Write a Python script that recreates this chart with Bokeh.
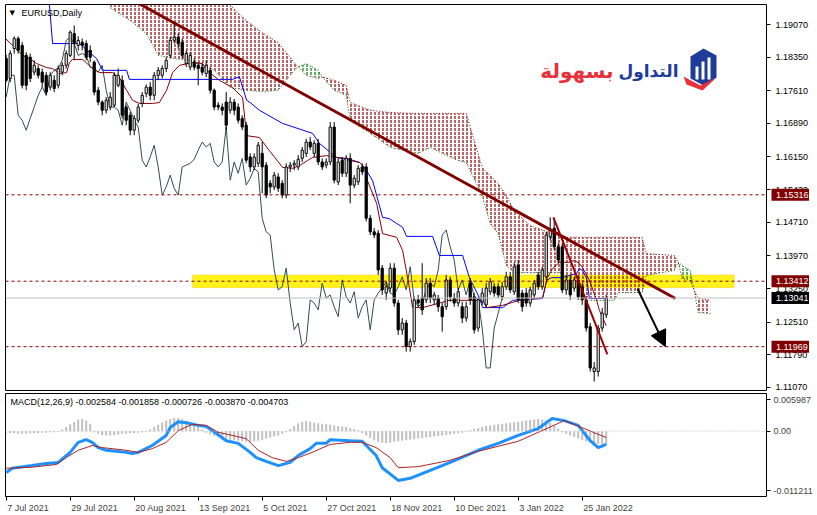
import numpy as np
from bokeh.plotting import figure
from bokeh.layouts import column
from bokeh.models import (Range1d, FixedTicker, Span, BoxAnnotation, Label,
                          Arrow, NormalHead, PrintfTickFormatter)
from bokeh.core.properties import value
from bokeh.embed import file_html
from bokeh.resources import INLINE

# ---------------- data ----------------
opens = [1.1832,1.1788,1.1854,1.1876,1.1861,1.1839,1.1835,1.1802,1.1810,1.1802,
         1.1795,1.1769,1.1784,1.1773,1.1802,1.1817,1.1839,1.1887,1.1861,1.1868,
         1.1865,1.1850,1.1824,1.1762,1.1736,1.1718,1.1725,1.1729,1.1773,1.1784,
         1.1725,1.1707,1.1674,1.1696,1.1733,1.1755,1.1769,1.1751,1.1795,1.1795,
         1.1810,1.1839,1.1872,1.1879,1.1868,1.1821,1.1813,1.1824,1.1817,1.1813,
         1.1799,1.1806,1.1762,1.1729,1.1725,1.1736,1.1718,1.1736,1.1725,1.1700,
         1.1685,1.1615,1.1593,1.1601,1.1623,1.1597,1.1557,1.1549,1.1571,1.1557,
         1.1531,1.1593,1.1597,1.1593,1.1612,1.1623,1.1648,1.1623,1.1645,1.1604,
         1.1597,1.1604,1.1681,1.1560,1.1608,1.1579,1.1612,1.1553,1.1560,1.1593,
         1.1593,1.1480,1.1450,1.1447,1.1370,1.1315,1.1326,1.1370,1.1293,1.1234,
         1.1249,1.1197,1.1208,1.1300,1.1304,1.1300,1.1337,1.1300,1.1304,1.1285,
         1.1285,1.1344,1.1304,1.1293,1.1285,1.1260,1.1337,1.1307,1.1238,1.1296,
         1.1289,1.1318,1.1329,1.1329,1.1307,1.1329,1.1351,1.1318,1.1377,1.1315,
         1.1315,1.1293,1.1311,1.1355,1.1329,1.1351,1.1439,1.1458,1.1417,1.1417,
         1.1322,1.1344,1.1326,1.1344,1.1329,1.1300,1.1241,1.1142,1.1142,1.1238,
         1.1267]
highs = [1.1840,1.1850,1.1881,1.1881,1.1868,1.1846,1.1843,1.1828,1.1817,1.1810,
         1.1802,1.1802,1.1795,1.1817,1.1824,1.1850,1.1894,1.1905,1.1881,1.1876,
         1.1872,1.1861,1.1828,1.1769,1.1740,1.1747,1.1758,1.1802,1.1810,1.1795,
         1.1729,1.1714,1.1707,1.1732,1.1758,1.1775,1.1780,1.1802,1.1813,1.1817,
         1.1835,1.1879,1.1909,1.1887,1.1876,1.1850,1.1846,1.1832,1.1824,1.1821,
         1.1828,1.1813,1.1766,1.1736,1.1733,1.1758,1.1747,1.1743,1.1733,1.1707,
         1.1692,1.1623,1.1623,1.1648,1.1648,1.1604,1.1564,1.1582,1.1579,1.1564,
         1.1601,1.1604,1.1608,1.1619,1.1637,1.1655,1.1659,1.1652,1.1655,1.1612,
         1.1612,1.1692,1.1692,1.1612,1.1615,1.1619,1.1623,1.1575,1.1597,1.1601,
         1.1601,1.1487,1.1458,1.1454,1.1377,1.1340,1.1381,1.1381,1.1300,1.1260,
         1.1256,1.1215,1.1307,1.1311,1.1381,1.1348,1.1348,1.1318,1.1311,1.1293,
         1.1355,1.1351,1.1315,1.1326,1.1296,1.1296,1.1348,1.1315,1.1307,1.1326,
         1.1337,1.1348,1.1337,1.1337,1.1340,1.1362,1.1362,1.1381,1.1388,1.1322,
         1.1326,1.1329,1.1344,1.1362,1.1373,1.1450,1.1482,1.1480,1.1425,1.1425,
         1.1355,1.1355,1.1351,1.1355,1.1337,1.1307,1.1249,1.1163,1.1245,1.1282,
         1.1311]
lows = [1.1780,1.1780,1.1843,1.1843,1.1766,1.1762,1.1780,1.1795,1.1788,1.1769,
        1.1751,1.1762,1.1758,1.1766,1.1795,1.1810,1.1835,1.1828,1.1850,1.1850,
        1.1828,1.1824,1.1751,1.1729,1.1707,1.1711,1.1718,1.1725,1.1769,1.1700,
        1.1685,1.1663,1.1663,1.1690,1.1725,1.1747,1.1740,1.1740,1.1784,1.1788,
        1.1802,1.1832,1.1865,1.1854,1.1832,1.1813,1.1806,1.1806,1.1773,1.1795,
        1.1791,1.1755,1.1718,1.1718,1.1707,1.1674,1.1711,1.1707,1.1689,1.1674,
        1.1601,1.1582,1.1586,1.1593,1.1535,1.1524,1.1535,1.1542,1.1538,1.1524,
        1.1524,1.1582,1.1586,1.1586,1.1604,1.1615,1.1630,1.1615,1.1597,1.1586,
        1.1590,1.1597,1.1557,1.1553,1.1571,1.1571,1.1513,1.1546,1.1553,1.1575,
        1.1473,1.1443,1.1436,1.1355,1.1311,1.1300,1.1318,1.1285,1.1223,1.1223,
        1.1186,1.1186,1.1201,1.1285,1.1267,1.1293,1.1293,1.1289,1.1274,1.1230,
        1.1278,1.1296,1.1285,1.1285,1.1249,1.1252,1.1289,1.1226,1.1230,1.1289,
        1.1282,1.1311,1.1307,1.1304,1.1300,1.1322,1.1315,1.1311,1.1293,1.1274,
        1.1285,1.1285,1.1304,1.1322,1.1322,1.1344,1.1432,1.1410,1.1381,1.1315,
        1.1311,1.1300,1.1318,1.1300,1.1289,1.1230,1.1142,1.1120,1.1131,1.1230,
        1.1260]
closes = [1.1784,1.1843,1.1876,1.1850,1.1773,1.1773,1.1788,1.1817,1.1795,1.1780,
          1.1758,1.1795,1.1766,1.1810,1.1817,1.1843,1.1890,1.1865,1.1872,1.1861,
          1.1835,1.1835,1.1758,1.1736,1.1718,1.1740,1.1747,1.1795,1.1795,1.1707,
          1.1696,1.1674,1.1700,1.1725,1.1751,1.1769,1.1751,1.1795,1.1806,1.1810,
          1.1828,1.1872,1.1879,1.1865,1.1839,1.1843,1.1839,1.1813,1.1810,1.1802,
          1.1817,1.1762,1.1725,1.1725,1.1718,1.1685,1.1736,1.1718,1.1696,1.1681,
          1.1608,1.1593,1.1615,1.1641,1.1593,1.1531,1.1549,1.1575,1.1546,1.1531,
          1.1593,1.1597,1.1601,1.1610,1.1630,1.1648,1.1637,1.1645,1.1604,1.1593,
          1.1604,1.1681,1.1564,1.1604,1.1579,1.1612,1.1553,1.1568,1.1590,1.1582,
          1.1480,1.1450,1.1443,1.1366,1.1322,1.1329,1.1370,1.1293,1.1234,1.1249,
          1.1197,1.1208,1.1300,1.1293,1.1278,1.1337,1.1304,1.1311,1.1285,1.1263,
          1.1344,1.1307,1.1293,1.1318,1.1260,1.1285,1.1300,1.1234,1.1300,1.1315,
          1.1326,1.1340,1.1315,1.1311,1.1329,1.1351,1.1322,1.1373,1.1300,1.1285,
          1.1293,1.1322,1.1337,1.1329,1.1366,1.1443,1.1454,1.1417,1.1388,1.1322,
          1.1344,1.1311,1.1344,1.1307,1.1300,1.1238,1.1150,1.1150,1.1238,1.1271,
          1.1304]

# Ichimoku lines (bar index, price)
tenkan_x = [-0.4,1.6,4.1,5.8,7.6,10.1,11.6,13.3,15.1,15.8,
            16.6,19.1,21.6,23.3,26.6,28.3,30.1,31.6,33.3,36.6,
            38.3,40.1,41.6,43.3,46.6,49.1,50.1,53.3,56.6,59.1,
            60.1,63.3,65.8,69.1,71.6,73.3,75.3,76.6,80.1,82.6,
            85.1,88.3,89.6,90.3,92.6,94.1,97.6,99.1,100.8,101.6,
            104.1,110.8,119.1,120.1,124.1,128.3,134.1,135.3,136.6,138.3,
            140.8,142.1,143.3,144.1,145.8,147.6,148.3,150]
tenkan_y = [1.1878,1.1861,1.1839,1.1832,1.1821,1.1812,1.1810,1.1799,1.1801,1.1823,
            1.1830,1.1830,1.1810,1.1801,1.1801,1.1790,1.1762,1.1740,1.1733,1.1733,
            1.1735,1.1762,1.1801,1.1817,1.1823,1.1821,1.1806,1.1784,1.1768,1.1746,
            1.1662,1.1658,1.1629,1.1592,1.1590,1.1596,1.1607,1.1614,1.1618,1.1614,
            1.1612,1.1603,1.1592,1.1563,1.1513,1.1446,1.1438,1.1409,1.1327,1.1283,
            1.1283,1.1299,1.1299,1.1283,1.1288,1.1299,1.1305,1.1349,1.1369,1.1383,
            1.1383,1.1387,1.1380,1.1371,1.1343,1.1299,1.1277,1.1243]
kijun_x = [-1,10.3,11.6,18.3,22.6,24.1,30.1,30.8,56.6,58.3,
           60.1,61,63.3,69.1,76.6,78.3,82.6,88.3,89.6,91.6,
           94.1,95.8,99.1,100.1,106.6,108.3,114.1,115.8,118.3,119.1,
           124.1,126.6,134.1,135.1,136.3,139.1,140.8,142.6,143.3,144.1,
           145.1,145.8,150]
kijun_y = [1.2004,1.2004,1.1865,1.1865,1.1832,1.1806,1.1806,1.1786,1.1786,1.1792,
           1.1740,1.1735,1.1718,1.1689,1.1667,1.1645,1.1614,1.1603,1.1592,1.1563,
           1.1482,1.1479,1.1460,1.1440,1.1440,1.1398,1.1398,1.1349,1.1305,1.1283,
           1.1283,1.1299,1.1303,1.1343,1.1349,1.1349,1.1354,1.1358,1.1369,1.1365,
           1.1347,1.1303,1.1303]
cloud_x = [26,31,35,38,42,46,52,56,60,64,
           68,72,73,75,78,79,82,85,86,91,
           96,103,106,109,113,115,119,121,123,125,
           127,131,139,143,146,152,153,159,160,167,
           168,169,171,172,173,176]
span_a = [1.1944,1.1916,1.1887,1.1839,1.1832,1.1828,1.1806,1.1768,1.1762,1.1759,
          1.1762,1.1806,1.1814,1.1821,1.1806,1.1792,1.1762,1.1751,1.1695,1.1667,
          1.1636,1.1623,1.1636,1.1623,1.1607,1.1603,1.1530,1.1468,1.1446,1.1376,
          1.1360,1.1360,1.1360,1.1321,1.1299,1.1299,1.1316,1.1316,1.1354,1.1365,
          1.1383,1.1376,1.1365,1.1321,1.1272,1.1270]
span_b = [1.2048,1.2048,1.2048,1.2048,1.2048,1.2048,1.2026,1.1949,1.1916,1.1889,
          1.1867,1.1823,1.1814,1.1795,1.1788,1.1792,1.1784,1.1773,1.1735,1.1718,
          1.1713,1.1711,1.1711,1.1711,1.1711,1.1711,1.1592,1.1574,1.1557,1.1530,
          1.1497,1.1464,1.1438,1.1438,1.1438,1.1438,1.1438,1.1438,1.1402,1.1398,
          1.1383,1.1347,1.1343,1.1321,1.1303,1.1299]
CHIKOU_SHIFT = 26

# MACD panel
hist = [-0.0003,-0.0004,-0.0004,-0.0005,-0.0005,-0.0005,-0.0004,-0.0004,-0.0004,-0.0003,-0.0003,-0.0002,-0.0002,-0.0001,
        0.0003,0.0008,0.0013,0.0018,0.0022,0.0023,0.0020,0.0014,
        -0.0002,-0.0005,-0.0007,-0.0008,-0.0008,-0.0007,-0.0006,-0.0005,-0.0005,-0.0004,-0.0004,-0.0003,-0.0002,-0.0001,
        0.0003,0.0008,0.0012,0.0016,0.0020,0.0023,0.0025,0.0025,0.0023,0.0020,0.0016,0.0012,0.0008,0.0003,
        -0.0003,-0.0006,-0.0009,-0.0011,-0.0013,-0.0015,-0.0016,-0.0017,-0.0018,-0.0019,-0.0020,-0.0020,-0.0019,-0.0018,-0.0016,-0.0014,-0.0012,-0.0010,-0.0008,-0.0005,-0.0002,
        0.0004,0.0010,0.0015,0.0018,0.0019,0.0018,0.0016,0.0015,0.0014,0.0013,0.0012,0.0011,0.0010,0.0009,0.0008,0.0006,0.0004,0.0002,
        -0.0004,-0.0008,-0.0013,-0.0017,-0.0020,-0.0022,-0.0023,-0.0022,-0.0020,-0.0019,-0.0018,-0.0017,-0.0016,-0.0015,-0.0014,-0.0013,-0.0012,-0.0011,-0.0010,-0.0009,-0.0008,-0.0007,-0.0006,-0.0005,-0.0004,-0.0003,-0.0001,
        0.0002,0.0004,0.0006,0.0008,0.0010,0.0011,0.0012,0.0013,0.0014,0.0015,0.0016,0.0017,0.0018,0.0019,0.0020,0.0021,0.0022,0.0023,0.0022,0.0020,0.0016,0.0011,0.0005,
        -0.0002,-0.0005,-0.0008,-0.0011,-0.0014,-0.0017,-0.0019,-0.0021,-0.0023,-0.0024,-0.0025,-0.0026]
macd_x = [0,1.5,6.5,10,13,16,18,20,21.5,23,
          25,27.5,30,31.5,33,36.5,40,41,43,45,
          48,50,52.5,55,58,61,62.5,65,68,71,
          73,76,77.5,80,81,86,89,90,92.5,94,
          96.5,98,101,106,111,118,123,128,133,136.5,
          139.5,143,146,148,150]
macd_v = [-0.0078,-0.0070,-0.0065,-0.0061,-0.0059,-0.0040,-0.0021,-0.0016,-0.0021,-0.0031,
          -0.0036,-0.0038,-0.0040,-0.0042,-0.0040,-0.0027,-0.0008,0.0007,0.0018,0.0016,
          0.0011,0.0009,-0.0004,-0.0018,-0.0023,-0.0040,-0.0050,-0.0057,-0.0065,-0.0059,
          -0.0046,-0.0033,-0.0023,-0.0023,-0.0016,-0.0018,-0.0019,-0.0027,-0.0046,-0.0069,
          -0.0084,-0.0093,-0.0089,-0.0074,-0.0059,-0.0036,-0.0023,-0.0008,0.0005,0.0024,
          0.0020,0.0011,-0.0018,-0.0031,-0.0025]
signal_x = [0,6.5,12.5,15,18,21.5,24,26.5,30,33,
            36.5,40,43,46.5,50,53,56.5,60,63,66.5,
            70,73,76.5,81,86,89,92.5,96,98,103,
            111,118,128,136,139.5,144.5,150]
signal_v = [-0.0070,-0.0068,-0.0063,-0.0050,-0.0036,-0.0027,-0.0031,-0.0033,-0.0036,-0.0040,
            -0.0033,-0.0021,0.0001,0.0013,0.0011,-0.0002,-0.0008,-0.0014,-0.0036,-0.0050,
            -0.0057,-0.0050,-0.0040,-0.0025,-0.0021,-0.0021,-0.0031,-0.0050,-0.0069,-0.0067,
            -0.0055,-0.0038,-0.0019,0.0008,0.0020,0.0005,-0.0012]

# axes / levels
price_ticks = [1.19070,1.18350,1.17610,1.16890,1.16150,1.15430,1.14710,1.13970,1.13250,1.12510,1.11790,1.11070]
level_prices = [1.15316, 1.13412, 1.11969]
current_price = 1.13041
band_bounds = [46.6, 182.0, 1.1327, 1.1355]   # left, right (bar), bottom, top (price)
trend_x, trend_y = [33.6, 167.3], [1.1951, 1.1303]
short_x, short_y = [136.8, 150.3], [1.1482, 1.1180]
arrow_pts = [157.8, 1.1325, 164.8, 1.1197]
date_ticks = [0,16,32,48,64,80,96,112,128,144]
date_labels = ["7 Jul 2021","29 Jul 2021","20 Aug 2021","13 Sep 2021","5 Oct 2021",
               "27 Oct 2021","18 Nov 2021","10 Dec 2021","3 Jan 2022","25 Jan 2022"]
macd_ticks = [0.005987, 0.0, -0.011211]
macd_tick_labels = ["0.005987", "0.00", "-0.011211"]
macd_title = "MACD(12,26,9) -0.002584 -0.001858 -0.000726 -0.003870 -0.004703"

# ---------------- layout constants ----------------
FONT = "Liberation Sans"
X_START, X_END = -0.175, 190.075
Y_START, Y_END = 1.11003, 1.19511
M_START, M_END = -0.01234, 0.007125
FW = 761
PX_PER_BAR = FW / (X_END - X_START)

def dx(px):
    return X_START + (px - 5) / FW * (X_END - X_START)

def dy(py):
    return Y_END - (py - 4) / 386 * (Y_END - Y_START)

def my(py):
    return M_END - (py - 393) / 103 * (M_END - M_START)

# approximate glyph widths (px) of Liberation Sans at 9px, to left-align the date labels
CW = {" ": 2.5, "l": 2.0, "t": 2.5, "J": 4.5, "c": 4.5, "v": 4.5, "A": 6.0, "S": 6.0,
      "O": 7.0, "N": 6.5, "D": 6.5}
def text_width(s):
    return sum(CW.get(ch, 5.0) for ch in s)

idx = np.arange(len(closes))
o = np.array(opens); c = np.array(closes); h = np.array(highs); l = np.array(lows)
bull = c >= o

# ---------------- main price panel ----------------
xr = Range1d(X_START, X_END)
yr = Range1d(Y_START, Y_END)
p = figure(frame_width=FW, frame_height=386, x_range=xr, y_range=yr,
           output_backend="svg", toolbar_location=None, x_axis_location=None,
           y_axis_location="right", min_border_left=5, min_border_top=4,
           min_border_bottom=3, min_border_right=47)
p.outline_line_color = "black"
p.grid.visible = False
ya = p.yaxis[0]
ya.ticker = FixedTicker(ticks=price_ticks)
ya.formatter = PrintfTickFormatter(format="%.5f")
ya.axis_line_color = None
ya.major_tick_out = 4
ya.major_tick_in = 0
ya.minor_tick_line_color = None
ya.major_label_text_font = FONT
ya.major_label_text_font_size = "9px"
ya.major_label_text_color = "black"
ya.major_label_standoff = 5

# yellow zone
p.add_layout(BoxAnnotation(left=band_bounds[0], right=band_bounds[1], bottom=band_bounds[2],
                           top=band_bounds[3], fill_color="#FFF200", fill_alpha=0.9,
                           line_color="#E8B800", line_width=1, level="underlay"))

# cloud
sa = np.array(span_a); sb = np.array(span_b)
top = np.maximum(sa, sb)
p.varea(x=cloud_x, y1=sa, y2=top, fill_color=None, fill_alpha=0,
        hatch_pattern="vertical_dash", hatch_color="#8B0000", hatch_scale=4, hatch_weight=1.2)
p.varea(x=cloud_x, y1=sb, y2=top, fill_color=None, fill_alpha=0,
        hatch_pattern="vertical_dash", hatch_color="#008000", hatch_scale=4, hatch_weight=1.2)
p.line(cloud_x, span_a, line_color="#006400", line_dash="1 2", line_width=1)
p.line(cloud_x, span_b, line_color="#8B0000", line_dash="1 2", line_width=1)

# levels
for lv in level_prices:
    p.add_layout(Span(location=lv, dimension="width", line_color="#8B0000",
                      line_dash="3 3", line_width=1))
p.add_layout(Span(location=current_price, dimension="width", line_color="#C0C0C0", line_width=1))

# ichimoku lines
p.line(idx[CHIKOU_SHIFT:] - CHIKOU_SHIFT, closes[CHIKOU_SHIFT:], line_color="#2F4F4F", line_width=1)
p.line(kijun_x, kijun_y, line_color="#0000FF", line_width=1)
p.line(tenkan_x, tenkan_y, line_color="#8B0000", line_width=1)

# candles
p.segment(idx, h, idx, l, line_color="black", line_width=1)
p.vbar(idx[bull], top=c[bull], bottom=o[bull], width=0.55, fill_color="white", line_color="black")
p.vbar(idx[~bull], top=o[~bull], bottom=c[~bull], width=0.55, fill_color="black", line_color="black")

# drawings
p.line(trend_x, trend_y, line_color="#800000", line_width=3)
p.line(short_x, short_y, line_color="#A00000", line_width=2)
p.add_layout(Arrow(x_start=arrow_pts[0], y_start=arrow_pts[1], x_end=arrow_pts[2], y_end=arrow_pts[3],
                   line_color="black", line_width=2,
                   end=NormalHead(size=16, fill_color="black", line_color="black")))

# titles
p.add_layout(Label(x=dx(9), y=dy(12), text="▼", text_font="DejaVu Sans", text_font_size="7px",
                   text_color="black", text_baseline="middle"))
p.add_layout(Label(x=dx(21), y=dy(12), text="EURUSD,Daily", text_font=FONT, text_font_size="9px",
                   text_color="black", text_baseline="middle"))

# logo
p.add_layout(Label(x=dx(678), y=dy(70), text="التداول", text_font="DejaVu Sans",
                   text_font_size="17px", text_font_style="bold", text_color="#1E3C9A",
                   text_align="right", text_baseline="middle"))
p.add_layout(Label(x=dx(613), y=dy(70), text="بسهولة", text_font="DejaVu Sans",
                   text_font_size="20px", text_font_style="bold", text_color="#E8313A",
                   text_align="right", text_baseline="middle"))
hex_px = [(690, 56), (703, 48), (716, 55), (716, 77), (703, 85), (690, 78)]
p.patch([dx(a) for a, b in hex_px], [dy(b) for a, b in hex_px], fill_color="#1E3C9A", line_color=None)
for bx, btop in [(695, 66), (701, 61), (707, 57)]:
    p.quad(left=dx(bx), right=dx(bx + 3), top=dy(btop), bottom=dy(79), fill_color="white", line_color=None)
swoosh = [(683, 76), (700, 85), (716, 77), (702, 90), (686, 84)]
p.patch([dx(a) for a, b in swoosh], [dy(b) for a, b in swoosh], fill_color="#E8313A", line_color=None)

# ---------------- price boxes over the right axis ----------------
r = figure(frame_width=47, frame_height=386, x_range=Range1d(0, 47), y_range=yr,
           output_backend="svg", toolbar_location=None, x_axis_location=None,
           y_axis_location=None, min_border_left=0, min_border_right=0,
           min_border_top=0, min_border_bottom=0,
           styles={"position": "absolute", "left": "762px", "top": "4px"})
r.outline_line_color = None
r.background_fill_alpha = 0
r.border_fill_alpha = 0
r.grid.visible = False
box_prices = level_prices + [current_price]
box_colors = ["#800000", "#800000", "#800000", "black"]
r.rect(x=24.5, y=box_prices, width=41, height=12, height_units="screen",
       fill_color=box_colors, line_color=None)
r.text(x=8.5, y=box_prices, text=[f"{v:.5f}" for v in box_prices], text_font=value(FONT),
       text_font_size="9px", text_color="white", text_baseline="middle")

# ---------------- MACD panel ----------------
q = figure(frame_width=FW, frame_height=103, x_range=xr, y_range=Range1d(M_START, M_END),
           output_backend="svg", toolbar_location=None, y_axis_location="right",
           min_border_left=5, min_border_top=0, min_border_bottom=17, min_border_right=47)
q.outline_line_color = "black"
q.grid.visible = False
q.add_layout(Span(location=0, dimension="width", line_color="#C0C0C0", line_dash="1 2", line_width=1))
q.vbar(idx, top=hist, bottom=0, width=0.5, fill_color="#C0C0C0", line_color=None)
q.line(macd_x, macd_v, line_color="#1E90FF", line_width=3)
q.line(signal_x, signal_v, line_color="#B22222", line_width=1)
qa = q.yaxis[0]
qa.ticker = FixedTicker(ticks=macd_ticks)
qa.major_label_overrides = {t: s for t, s in zip(macd_ticks, macd_tick_labels)}
qa.axis_line_color = None
qa.major_tick_out = 4
qa.major_tick_in = 0
qa.minor_tick_line_color = None
qa.major_label_text_font = FONT
qa.major_label_text_font_size = "9px"
qa.major_label_standoff = 3

# date labels start at their tick: labels sit on (invisible) major ticks shifted by half
# their width, the visible tick marks are drawn as minor ticks at the real dates
label_pos = [round(t + (1 + text_width(s) / 2) / PX_PER_BAR, 3) for t, s in zip(date_ticks, date_labels)]
xa = q.xaxis[0]
xa.ticker = FixedTicker(ticks=label_pos, minor_ticks=date_ticks)
xa.major_label_overrides = {t: s for t, s in zip(label_pos, date_labels)}
xa.axis_line_color = None
xa.major_tick_line_color = None
xa.major_tick_out = 4
xa.minor_tick_out = 4
xa.minor_tick_in = 0
xa.minor_tick_line_color = "black"
xa.major_label_text_font = FONT
xa.major_label_text_font_size = "9px"
xa.major_label_standoff = 2
q.add_layout(Label(x=dx(10), y=my(401), text=macd_title, text_font=FONT, text_font_size="9px",
                   text_color="black", text_baseline="middle"))

lay = column(p, q, r, spacing=0, styles={"position": "absolute", "left": "0px", "top": "0px"})
open("out.html", "w").write(file_html(lay, INLINE))
